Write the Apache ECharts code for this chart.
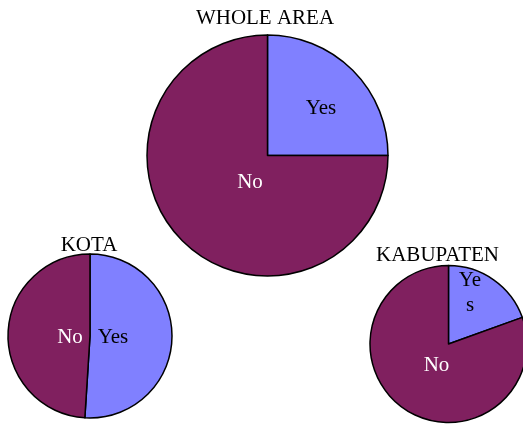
<!DOCTYPE html>
<html>
<head>
<meta charset="utf-8">
<script src="https://cdn.jsdelivr.net/npm/echarts@6/dist/echarts.min.js"></script>
<style>
  html, body { margin: 0; padding: 0; background: #ffffff; }
  #chart { width: 523px; height: 426px; }
</style>
</head>
<body>
<div id="chart"></div>
<script>
// Share of answers per area
const categories = ['Yes', 'No'];
const wholeArea = [25, 75];
const kota = [51, 49];
const kabupaten = [19.5, 80.5];
const areaNames = ['WHOLE AREA', 'KOTA', 'KABUPATEN'];

const FONT = '"Liberation Serif", "Times New Roman", serif';
const FONT_SIZE = 21;
const sliceColors = ['#8080ff', '#80205f'];
const labelColors = ['#000000', '#ffffff'];

// Pie geometry: center and radius per area
const pies = [
  { values: wholeArea, center: [267.5, 155.5], radius: 120.5, titleX: 265, titleY: 8 },
  { values: kota, center: [90, 336], radius: 82, titleX: 89, titleY: 235 },
  { values: kabupaten, center: [448.5, 344], radius: 78.5, titleX: 437.5, titleY: 245 }
];

// Label offsets from each pie's center, [series][slice]
const labelOffsets = [
  [[53.5, -47], [-17.5, 26.5]],
  [[23, 1], [-20, 1]],
  [[21.5, -51.5], [-12, 21]]
];

const chart = echarts.init(document.getElementById('chart'), null, { renderer: 'canvas' });

const option = {
  backgroundColor: '#ffffff',
  animation: false,
  title: pies.map((p, i) => ({
    text: areaNames[i],
    left: p.titleX,
    top: p.titleY,
    textAlign: 'center',
    padding: 0,
    textStyle: { fontFamily: FONT, fontSize: FONT_SIZE, fontWeight: 'normal', color: '#000000' }
  })),
  series: pies.map((p, si) => ({
    type: 'pie',
    center: p.center,
    radius: p.radius,
    startAngle: 90,
    clockwise: true,
    silent: true,
    itemStyle: { borderColor: '#000000', borderWidth: 1.5 },
    label: {
      show: true,
      position: 'center',
      formatter: '{b}',
      fontFamily: FONT,
      fontSize: FONT_SIZE
    },
    labelLine: { show: false },
    emphasis: { disabled: true },
    labelLayout: function (params) {
      const off = labelOffsets[si][params.dataIndex];
      return { dx: off[0], dy: off[1] };
    },
    data: categories.map((c, k) => {
      const item = {
        name: c,
        value: p.values[k],
        itemStyle: { color: sliceColors[k] },
        label: { color: labelColors[k] }
      };
      if (si === 2 && k === 0) {
        item.label = {
          color: labelColors[k],
          width: 27,
          overflow: 'breakAll',
          lineHeight: 25,
          align: 'center'
        };
      }
      return item;
    })
  }))
};

chart.setOption(option);
</script>
</body>
</html>
